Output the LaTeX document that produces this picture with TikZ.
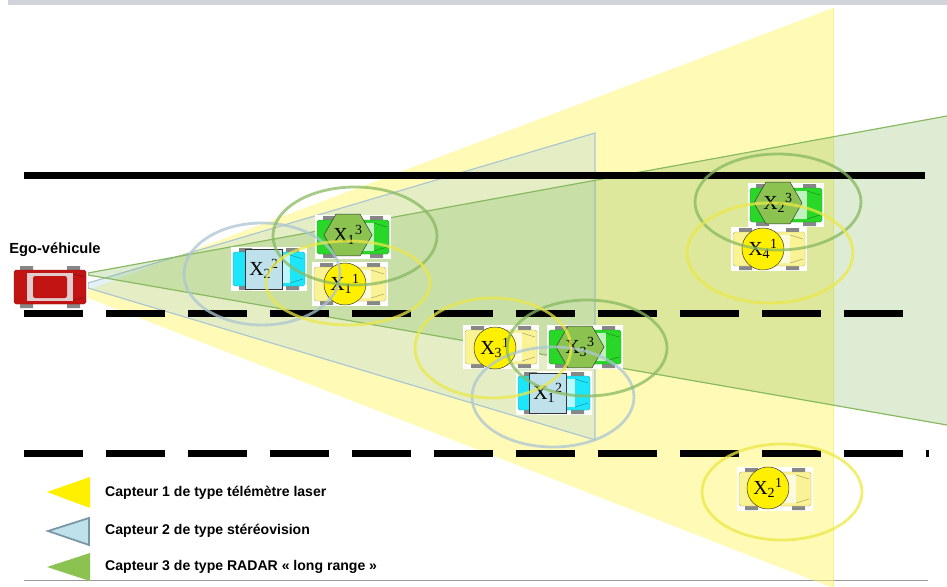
\documentclass[tikz,border=0pt]{standalone}
\usepackage{fontspec}
\setmainfont{Liberation Serif}
\setsansfont{Liberation Sans}
\usepackage{tikz}
\usetikzlibrary{shapes.geometric,positioning}

\definecolor{laserfill}{RGB}{255,245,110}
\definecolor{laserline}{RGB}{236,232,70}
\definecolor{laserdot}{RGB}{255,240,0}
\definecolor{stereofill}{RGB}{165,210,230}
\definecolor{stereoline}{RGB}{172,198,210}
\definecolor{stereobox}{RGB}{190,225,235}
\definecolor{stereoedge}{RGB}{120,150,165}
\definecolor{radarfill}{RGB}{120,180,80}
\definecolor{radarline}{RGB}{135,185,95}
\definecolor{radarhex}{RGB}{140,195,80}
\definecolor{egored}{RGB}{195,20,20}
\definecolor{egoglass}{RGB}{225,205,205}
\definecolor{carcyan}{RGB}{30,230,250}
\definecolor{cargreen}{RGB}{40,215,40}
\definecolor{caryellow}{RGB}{250,243,150}
\definecolor{wheelgray}{RGB}{135,135,135}
\definecolor{topbar}{RGB}{208,212,217}

% X indice capteur
\newcommand{\obs}[2]{X\textsubscript{#1}\textsuperscript{#2}}

\tikzset{
  pics/car/.style={code={
    \fill[white] (-38,-22) rectangle (38,22);
    \fill[wheelgray] (-30,-21) rectangle (-17,-15) (17,-21) rectangle (30,-15)
                     (-30,15) rectangle (-17,21) (17,15) rectangle (30,21);
    \filldraw[fill=#1, draw=#1!70!black, line width=0.3pt, rounded corners=1.5pt] (-36,-17) rectangle (36,17);
    \fill[#1!30!white] (-21,-14) rectangle (21,14);
    \draw[#1!55!black, line width=0.3pt] (21,-14) -- (34,-10) (21,14) -- (34,10);
  }}
}

\begin{document}
\begin{tikzpicture}[x=0.03cm, y=-0.03cm]

    \tikzstyle{laser} = [
        circle,
        draw=black!80,
        fill=laserdot,
        minimum size=1.26cm,
        inner sep=0pt,
        font=\fontsize{17}{17}\selectfont
    ]
    \tikzstyle{stereo} = [
        rectangle,
        draw=black!80,
        fill=stereobox,
        minimum width=1.11cm,
        minimum height=1.2cm,
        inner sep=0pt,
        font=\fontsize{17}{17}\selectfont
    ]
    \tikzstyle{radar} = [
        regular polygon,
        regular polygon sides=6,
        draw=black!80,
        fill=radarhex,
        minimum size=1.22cm,
        inner sep=0pt,
        font=\fontsize{17}{17}\selectfont
    ]
    \tikzstyle{zone} = [
        line width=2.4pt,
        draw opacity=0.75
    ]
    \tikzstyle{legend} = [
        anchor=west,
        inner sep=0pt,
        font=\sffamily\bfseries\fontsize{12}{12}\selectfont
    ]
    \tikzstyle{road} = [
        line width=0.21cm
    ]

    \useasboundingbox (0,0) rectangle (947,587);
    \fill[topbar] (8,0) rectangle (947,5);
    \draw[black!40, line width=0.8pt] (24,580) -- (928,580);

    % champs des capteurs
    \fill[laserfill, fill opacity=0.5] (88,290) -- (833,8) -- (833,588) -- (88,298) -- cycle;
    \draw[laserline, opacity=0.6] (833,8) -- (833,588);
    \filldraw[fill=stereofill, fill opacity=0.3, draw=stereoline, line width=1pt]
        (88,283) -- (595,133) -- (595,440) -- (88,288) -- cycle;
    \fill[radarfill, fill opacity=0.25] (88,273) -- (947,116) -- (947,425) -- (88,275) -- cycle;
    \draw[radarline, line width=1pt] (947,116) -- (88,273) -- (88,275) -- (947,425);

    % voies
    \draw[road] (24,175) -- (925,175);
    \draw[road, dash pattern=on 1.77cm off 0.69cm] (24,313) -- (903,313);
    \draw[road, dash pattern=on 1.77cm off 0.69cm] (24,453) -- (929,453);

    % vehicules
    \pic at (50,287) {car=egored};
    \fill[egoglass] (-23+50,-14+287) rectangle (23+50,14+287);
    \fill[egored, rounded corners=2pt] (-17+50,-11+287) rectangle (17+50,11+287);
    \node [font=\sffamily\bfseries\fontsize{12.5}{12.5}\selectfont] (ego) at (55,250) {Ego-véhicule};

    \pic at (269,269) {car=carcyan};
    \pic at (353,237) {car=cargreen};
    \pic at (350,284) {car=caryellow};
    \pic at (501,347) {car=caryellow};
    \pic at (585,347) {car=cargreen};
    \pic at (554,393) {car=carcyan};
    \pic at (786,205) {car=cargreen};
    \pic at (769,249) {car=caryellow};
    \pic at (775,489) {car=caryellow};

    \node [stereo] (x22) at (264,269) {\obs{2}{2}};
    \node [radar]  (x13) at (348,235) {\obs{1}{3}};
    \node [laser]  (x11) at (345,284) {\obs{1}{1}};
    \node [laser]  (x31) at (495,348) {\obs{3}{1}};
    \node [radar]  (x33) at (580,347) {\obs{3}{3}};
    \node [stereo] (x12) at (548,393) {\obs{1}{2}};
    \node [radar]  (x23) at (778,203) {\obs{2}{3}};
    \node [laser]  (x41) at (763,249) {\obs{4}{1}};
    \node [laser]  (x21) at (768,488) {\obs{2}{1}};

    % zones d'incertitude
    \draw[zone, stereoline] (262,274) ellipse [x radius=78, y radius=51];
    \draw[zone, stereoline] (553,397) ellipse [x radius=81, y radius=50];
    \draw[zone, radarline] (355,236) ellipse [x radius=82, y radius=49];
    \draw[zone, radarline] (587,348) ellipse [x radius=80, y radius=48];
    \draw[zone, radarline] (778,202) ellipse [x radius=83, y radius=48];
    \draw[zone, laserline] (348,283) ellipse [x radius=82, y radius=42];
    \draw[zone, laserline] (493,348) ellipse [x radius=78, y radius=50];
    \draw[zone, laserline] (770,253) ellipse [x radius=83, y radius=50];
    \draw[zone, laserline] (782,492) ellipse [x radius=80, y radius=48];

    % legende
    \fill[laserdot] (90,477) -- (47,492) -- (90,508) -- cycle;
    \filldraw[fill=stereobox, draw=stereoedge, line width=1.5pt] (89,518) -- (48,531) -- (89,545) -- cycle;
    \fill[radarhex] (90,553) -- (47,567) -- (90,581) -- cycle;

    \node [legend] (leg1) at (105,493) {Capteur 1 de type télémètre laser};
    \node [legend] (leg2) at (105,531) {Capteur 2 de type stéréovision};
    \node [legend] (leg3) at (105,567) {Capteur 3 de type RADAR « long range »};

\end{tikzpicture}
\end{document}
